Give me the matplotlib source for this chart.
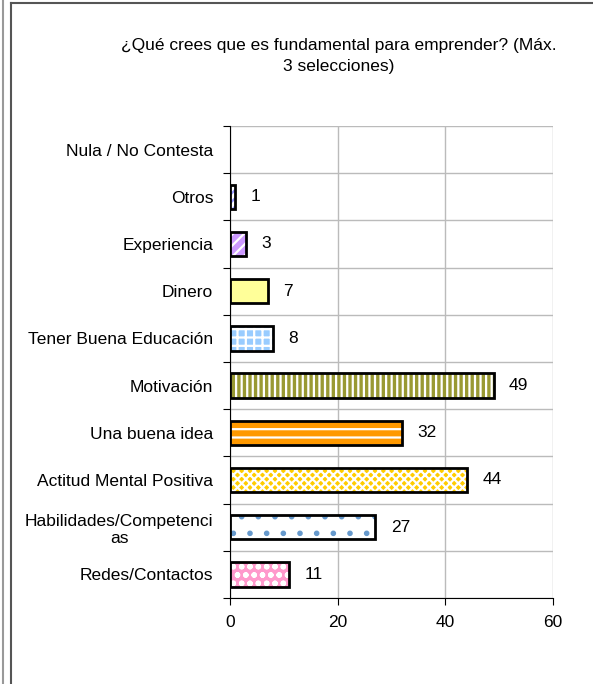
# -*- encoding: utf-8 -*-
import numpy as np
import matplotlib
matplotlib.use("Agg")
from matplotlib import pyplot as plt
from matplotlib.lines import Line2D

# dati (dal basso verso l'alto)
categorias = ["Redes/Contactos", "Habilidades/Competenci\nas",
              "Actitud Mental Positiva", "Una buena idea", "Motivación",
              "Tener Buena Educación", "Dinero", "Experiencia", "Otros",
              "Nula / No Contesta"]
valores = [11, 27, 44, 32, 49, 8, 7, 3, 1, 0]
colores = ["#FF99CC", "#FFFFFF", "#FFCC00", "#FF9900", "#999933",
           "#99CCFF", "#FFFF99", "#CC99FF", "#FFFFFF", "#FFFFFF"]
tramas = ["oo", ".", "xxxx", "--", "|||", "++", "", "///", "////", ""]
color_trama = ["white", "#6699CC", "white", "white", "white",
               "white", "white", "white", "#9999FF", "white"]
titulo = "¿Qué crees que es fundamental para emprender? (Máx.\n3 selecciones)"

plt.rcParams['font.family'] = ['Liberation Sans', 'DejaVu Sans']
plt.rcParams['hatch.linewidth'] = 1.6

f1 = plt.figure(figsize=(5.93, 6.84), dpi=100)
ax1 = f1.add_axes([230/593, 1-598/684, 323/593, 472/684])

y = np.arange(len(valores)) + 0.5
for yi, v, c, h, hc in zip(y, valores, colores, tramas, color_trama):
    if v == 0:
        continue
    # relleno con trama
    ax1.barh(yi, v, height=0.52, color=c, edgecolor=hc, hatch=h,
             linewidth=0, zorder=3)
    # borde negro
    ax1.barh(yi, v, height=0.52, facecolor="none", edgecolor="black",
             linewidth=2, zorder=4)
    ax1.annotate(str(v), (v, yi), xytext=(11, 0), textcoords="offset points",
                 va="center", ha="left", fontsize=12.5)

ax1.set_xlim(0, 60)
ax1.set_ylim(0, 10)
ax1.set_xticks([0, 20, 40, 60])
ax1.set_yticks(np.arange(0, 11))
ax1.set_yticklabels([])
ax1.set_yticks(y, minor=True)
ax1.set_yticklabels(categorias, minor=True, fontsize=12.5)
for lab in ax1.get_yticklabels(minor=True):
    lab.set_multialignment("center")
ax1.tick_params(axis="y", which="minor", length=0, pad=12)
ax1.tick_params(axis="y", which="major", length=5, direction="out", color="black")
ax1.tick_params(axis="x", length=5, direction="out", labelsize=12.5, pad=7)

ax1.grid(True, which="major", color="#BBBBBB", linewidth=1, zorder=0)
ax1.set_axisbelow(True)
for s in ("top", "right"):
    ax1.spines[s].set_visible(False)
ax1.spines["left"].set_color("black")
ax1.spines["bottom"].set_color("black")
ax1.spines["left"].set_zorder(5)

f1.text(339/593, 1-56/684, titulo, ha="center", va="center",
        fontsize=12.5, linespacing=1.5)

# cornice
f1.add_artist(Line2D([2.5/593, 2.5/593], [0, 1], color="#999999",
                     linewidth=1.5, transform=f1.transFigure))
f1.add_artist(Line2D([11/593, 11/593], [0, 1-3/684], color="#555555",
                     linewidth=1.5, transform=f1.transFigure))
f1.add_artist(Line2D([11/593, 1], [1-3/684, 1-3/684], color="#555555",
                     linewidth=1.5, transform=f1.transFigure))

f1.savefig("out.png", dpi=100)
